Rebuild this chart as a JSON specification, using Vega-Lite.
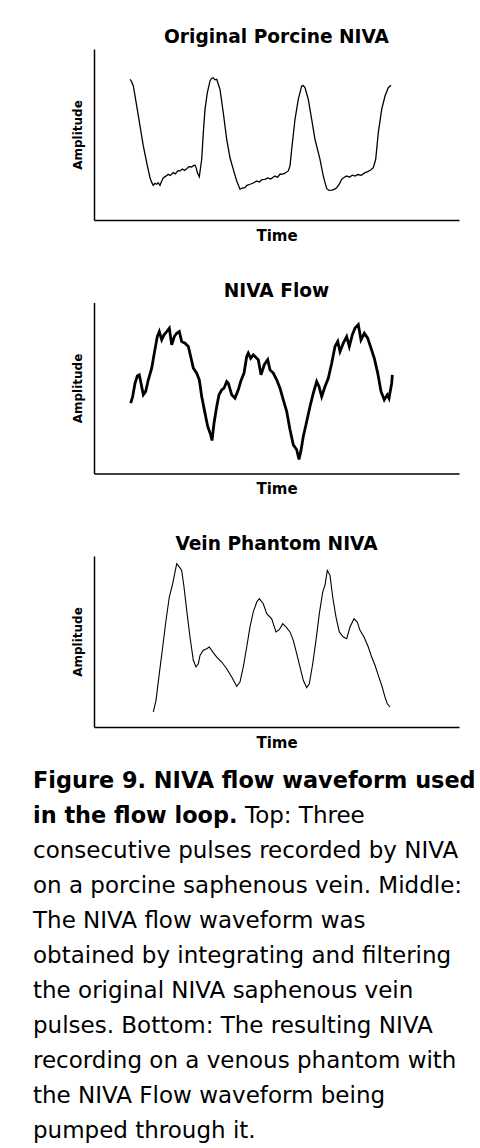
{
  "$schema": "https://vega.github.io/schema/vega-lite/v6.json",
  "background": "white",
  "padding": {"left": 33, "top": 28, "right": 0, "bottom": 0},
  "center": true,
  "spacing": 19,
  "config": {
    "view": {"stroke": null},
    "axis": {
      "domainColor": "black",
      "domainWidth": 1.5,
      "ticks": false,
      "labels": false,
      "grid": false,
      "titleFont": "DejaVu Sans",
      "titleFontWeight": "bold",
      "titleColor": "black"
    },
    "axisX": {"titleFontSize": 15, "titlePadding": 8},
    "axisY": {"titleFontSize": 12, "titlePadding": 10},
    "title": {"font": "DejaVu Sans", "fontSize": 18.6, "fontWeight": "bold", "color": "black", "anchor": "middle", "offset": 2, "baseline": "alphabetic"}
  },
  "datasets": {
    "p1": [
      {"t":9.86,"a":82.3},{"t":10.3,"a":81.0},{"t":10.77,"a":78.4},{"t":11.70,"a":66.7},{"t":12.60,"a":55.0},{"t":13.51,"a":43.3},{"t":14.44,"a":33.5},{"t":15.34,"a":24.7},{"t":15.8,"a":22.0},{"t":16.25,"a":20.3},{"t":16.7,"a":21.5},{"t":17.18,"a":20.9},{"t":17.6,"a":21.8},{"t":18.08,"a":20.3},{"t":18.5,"a":22.5},{"t":18.99,"a":24.7},{"t":19.6,"a":25.5},{"t":20.36,"a":26.7},{"t":20.9,"a":26.0},{"t":21.73,"a":27.7},{"t":22.3,"a":27.0},{"t":23.0,"a":28.9},{"t":23.56,"a":28.7},{"t":24.2,"a":29.8},{"t":24.8,"a":29.0},{"t":25.40,"a":30.0},{"t":26.0,"a":31.2},{"t":26.77,"a":31.0},{"t":27.2,"a":31.8},{"t":27.67,"a":32.0},{"t":28.0,"a":30.5},{"t":28.30,"a":27.7},{"t":28.85,"a":25.3},{"t":29.51,"a":35.5},{"t":29.95,"a":51.1},{"t":30.41,"a":64.7},{"t":31.04,"a":74.4},{"t":31.78,"a":81.3},{"t":32.2,"a":82.8},{"t":32.68,"a":83.2},{"t":33.1,"a":82.0},{"t":33.62,"a":82.3},{"t":34.52,"a":76.4},{"t":35.42,"a":62.7},{"t":36.36,"a":47.2},{"t":37.26,"a":36.4},{"t":38.16,"a":29.6},{"t":39.10,"a":22.8},{"t":40.00,"a":18.0},{"t":40.6,"a":18.6},{"t":41.37,"a":18.9},{"t":41.9,"a":20.3},{"t":42.74,"a":20.9},{"t":43.5,"a":21.5},{"t":44.58,"a":22.8},{"t":45.3,"a":22.2},{"t":46.0,"a":23.6},{"t":46.85,"a":23.8},{"t":47.6,"a":24.6},{"t":48.4,"a":24.0},{"t":49.59,"a":25.7},{"t":50.3,"a":25.0},{"t":51.0,"a":26.9},{"t":51.42,"a":26.7},{"t":52.2,"a":27.2},{"t":53.23,"a":28.7},{"t":53.70,"a":31.6},{"t":54.16,"a":41.3},{"t":55.07,"a":58.9},{"t":55.97,"a":70.6},{"t":56.90,"a":78.4},{"t":57.3,"a":78.6},{"t":57.81,"a":77.4},{"t":58.71,"a":70.6},{"t":59.64,"a":58.9},{"t":60.55,"a":47.2},{"t":61.92,"a":35.5},{"t":62.82,"a":25.7},{"t":63.75,"a":18.3},{"t":64.4,"a":17.3},{"t":65.12,"a":17.5},{"t":65.8,"a":17.9},{"t":66.49,"a":18.9},{"t":67.2,"a":21.0},{"t":67.86,"a":23.8},{"t":68.6,"a":25.0},{"t":69.23,"a":25.7},{"t":70.0,"a":25.1},{"t":70.8,"a":26.2},{"t":71.51,"a":25.7},{"t":72.3,"a":26.6},{"t":73.2,"a":26.1},{"t":74.25,"a":27.7},{"t":75.0,"a":28.3},{"t":75.8,"a":29.2},{"t":76.52,"a":30.6},{"t":77.18,"a":35.5},{"t":77.89,"a":51.1},{"t":78.82,"a":64.7},{"t":79.73,"a":72.5},{"t":80.63,"a":77.4},{"t":81.37,"a":78.8}
    ],
    "p2": [
      {"t":10.05,"a":41.1},{"t":10.6,"a":45.0},{"t":11.23,"a":52.8},{"t":11.86,"a":57.1},{"t":12.41,"a":57.7},{"t":12.88,"a":52.8},{"t":13.51,"a":46.0},{"t":14.16,"a":48.0},{"t":14.88,"a":54.8},{"t":15.81,"a":61.6},{"t":16.52,"a":70.4},{"t":17.34,"a":80.1},{"t":17.89,"a":83.0},{"t":18.55,"a":78.2},{"t":19.18,"a":81.1},{"t":19.92,"a":83.0},{"t":20.63,"a":85.0},{"t":21.29,"a":75.3},{"t":22.0,"a":80.1},{"t":22.66,"a":82.0},{"t":23.37,"a":83.0},{"t":24.03,"a":77.2},{"t":24.93,"a":76.2},{"t":25.84,"a":74.3},{"t":26.49,"a":68.4},{"t":27.21,"a":61.6},{"t":28.14,"a":58.7},{"t":28.85,"a":54.8},{"t":29.51,"a":45.0},{"t":30.41,"a":35.3},{"t":31.15,"a":27.5},{"t":31.97,"a":22.6},{"t":32.33,"a":19.3},{"t":32.88,"a":29.4},{"t":33.62,"a":39.2},{"t":34.25,"a":46.0},{"t":34.99,"a":48.9},{"t":35.62,"a":49.9},{"t":36.36,"a":53.8},{"t":36.79,"a":52.8},{"t":37.73,"a":46.0},{"t":38.63,"a":44.0},{"t":39.53,"a":48.9},{"t":40.19,"a":53.8},{"t":41.1,"a":58.7},{"t":41.84,"a":68.4},{"t":42.27,"a":70.4},{"t":42.93,"a":67.4},{"t":43.64,"a":69.4},{"t":44.58,"a":67.4},{"t":45.01,"a":66.5},{"t":45.75,"a":57.7},{"t":46.66,"a":63.6},{"t":47.59,"a":66.5},{"t":48.22,"a":60.6},{"t":49.12,"a":58.7},{"t":50.05,"a":54.8},{"t":50.96,"a":49.9},{"t":51.86,"a":43.1},{"t":52.79,"a":36.3},{"t":53.7,"a":25.6},{"t":54.6,"a":16.8},{"t":55.53,"a":13.9},{"t":56.16,"a":8.2},{"t":56.71,"a":13.5},{"t":57.34,"a":21.6},{"t":58.27,"a":30.4},{"t":59.18,"a":39.2},{"t":60.08,"a":47.0},{"t":61.01,"a":53.8},{"t":61.64,"a":50.9},{"t":62.38,"a":45.0},{"t":63.29,"a":50.9},{"t":64.19,"a":55.7},{"t":65.12,"a":64.5},{"t":66.03,"a":74.3},{"t":66.77,"a":77.2},{"t":67.4,"a":71.3},{"t":68.3,"a":76.2},{"t":69.23,"a":80.1},{"t":69.95,"a":74.3},{"t":70.77,"a":81.1},{"t":71.51,"a":85.0},{"t":72.41,"a":87.0},{"t":73.15,"a":78.2},{"t":74.05,"a":82.0},{"t":74.99,"a":79.1},{"t":75.89,"a":73.3},{"t":76.79,"a":67.4},{"t":77.73,"a":58.7},{"t":78.63,"a":48.0},{"t":79.53,"a":43.1},{"t":80.36,"a":46.0},{"t":80.82,"a":44.0},{"t":81.56,"a":52.8},{"t":81.73,"a":57.7}
    ],
    "p3": [
      {"t":16.25,"a":8.8},{"t":16.99,"a":15.6},{"t":17.89,"a":31.2},{"t":18.82,"a":46.8},{"t":19.73,"a":62.4},{"t":20.63,"a":76.0},{"t":21.56,"a":83.8},{"t":22.19,"a":90.6},{"t":22.66,"a":95.5},{"t":23.37,"a":93.6},{"t":24.03,"a":91.6},{"t":24.66,"a":81.9},{"t":25.4,"a":68.2},{"t":26.3,"a":52.6},{"t":27.21,"a":39.0},{"t":27.95,"a":35.1},{"t":28.58,"a":37.0},{"t":29.04,"a":41.9},{"t":29.95,"a":44.9},{"t":30.88,"a":45.8},{"t":31.59,"a":46.8},{"t":32.52,"a":43.9},{"t":33.62,"a":40.9},{"t":34.99,"a":38.0},{"t":36.36,"a":34.1},{"t":37.73,"a":29.2},{"t":39.1,"a":23.8},{"t":40.0,"a":26.3},{"t":40.9,"a":35.1},{"t":41.84,"a":46.8},{"t":42.74,"a":58.5},{"t":43.64,"a":67.3},{"t":44.58,"a":73.1},{"t":45.29,"a":75.0},{"t":46.38,"a":72.1},{"t":47.32,"a":66.3},{"t":48.68,"a":63.3},{"t":49.86,"a":55.6},{"t":50.77,"a":56.9},{"t":51.7,"a":60.4},{"t":52.6,"a":58.5},{"t":53.7,"a":55.6},{"t":54.6,"a":50.7},{"t":55.53,"a":42.9},{"t":56.44,"a":35.1},{"t":57.34,"a":27.3},{"t":58.27,"a":23.0},{"t":58.99,"a":25.3},{"t":59.92,"a":37.0},{"t":60.82,"a":50.7},{"t":61.73,"a":66.3},{"t":62.66,"a":78.9},{"t":63.29,"a":82.9},{"t":63.92,"a":91.6},{"t":64.66,"a":88.7},{"t":65.4,"a":76.0},{"t":66.3,"a":64.3},{"t":67.21,"a":55.6},{"t":68.3,"a":52.6},{"t":69.23,"a":51.6},{"t":70.14,"a":58.5},{"t":71.23,"a":63.3},{"t":72.14,"a":61.4},{"t":72.88,"a":56.5},{"t":73.97,"a":52.6},{"t":75.15,"a":46.8},{"t":76.08,"a":40.9},{"t":76.99,"a":36.1},{"t":77.89,"a":30.2},{"t":78.82,"a":24.4},{"t":79.73,"a":17.5},{"t":80.36,"a":13.6},{"t":81.1,"a":11.7}
    ],
    "caption": [
      {"line":1,"part":"head","text":"Figure 9. NIVA flow waveform used"},
      {"line":2,"part":"head","text":"in the flow loop."},
      {"line":2,"part":"tail","text":"Top: Three"},
      {"line":3,"part":"body","text":"consecutive pulses recorded by NIVA"},
      {"line":4,"part":"body","text":"on a porcine saphenous vein. Middle:"},
      {"line":5,"part":"body","text":"The NIVA flow waveform was"},
      {"line":6,"part":"body","text":"obtained by integrating and filtering"},
      {"line":7,"part":"body","text":"the original NIVA saphenous vein"},
      {"line":8,"part":"body","text":"pulses. Bottom: The resulting NIVA"},
      {"line":9,"part":"body","text":"recording on a venous phantom with"},
      {"line":10,"part":"body","text":"the NIVA Flow waveform being"},
      {"line":11,"part":"body","text":"pumped through it."}
    ]
  },
  "vconcat": [
    {
      "spacing": 38.5,
      "vconcat": [
        {
          "title": "Original Porcine NIVA",
          "data": {"name": "p1"},
          "width": 365,
          "height": 171,
          "mark": {"type": "line", "color": "black", "strokeWidth": 1.3},
          "encoding": {
            "x": {"field": "t", "type": "quantitative", "scale": {"domain": [0, 100], "nice": false}, "axis": {"title": "Time"}},
            "y": {"field": "a", "type": "quantitative", "scale": {"domain": [0, 100], "nice": false}, "axis": {"title": "Amplitude"}}
          }
        },
        {
          "title": "NIVA Flow",
          "data": {"name": "p2"},
          "width": 365,
          "height": 171,
          "mark": {"type": "line", "color": "black", "strokeWidth": 2.8},
          "encoding": {
            "x": {"field": "t", "type": "quantitative", "scale": {"domain": [0, 100], "nice": false}, "axis": {"title": "Time"}},
            "y": {"field": "a", "type": "quantitative", "scale": {"domain": [0, 100], "nice": false}, "axis": {"title": "Amplitude"}}
          }
        },
        {
          "title": "Vein Phantom NIVA",
          "data": {"name": "p3"},
          "width": 365,
          "height": 171,
          "mark": {"type": "line", "color": "black", "strokeWidth": 1.1},
          "encoding": {
            "x": {"field": "t", "type": "quantitative", "scale": {"domain": [0, 100], "nice": false}, "axis": {"title": "Time"}},
            "y": {"field": "a", "type": "quantitative", "scale": {"domain": [0, 100], "nice": false}, "axis": {"title": "Amplitude"}}
          }
        }
      ]
    },
    {
      "data": {"name": "caption"},
      "width": 487,
      "height": {"step": 35},
      "encoding": {
        "y": {"field": "line", "type": "ordinal", "axis": null, "scale": {"padding": 0.3}},
        "x": {"value": 0},
        "text": {"field": "text"}
      },
      "layer": [
        {
          "transform": [{"filter": "datum.part === 'head'"}],
          "mark": {"type": "text", "align": "left", "baseline": "alphabetic", "font": "DejaVu Sans", "fontSize": 22.4, "fontWeight": "bold", "color": "black"}
        },
        {
          "transform": [{"filter": "datum.part === 'body'"}],
          "mark": {"type": "text", "align": "left", "baseline": "alphabetic", "font": "DejaVu Sans", "fontSize": 23, "color": "black"}
        },
        {
          "transform": [{"filter": "datum.part === 'tail'"}],
          "mark": {"type": "text", "align": "left", "baseline": "alphabetic", "font": "DejaVu Sans", "fontSize": 23, "color": "black", "dx": 212}
        }
      ]
    }
  ]
}
